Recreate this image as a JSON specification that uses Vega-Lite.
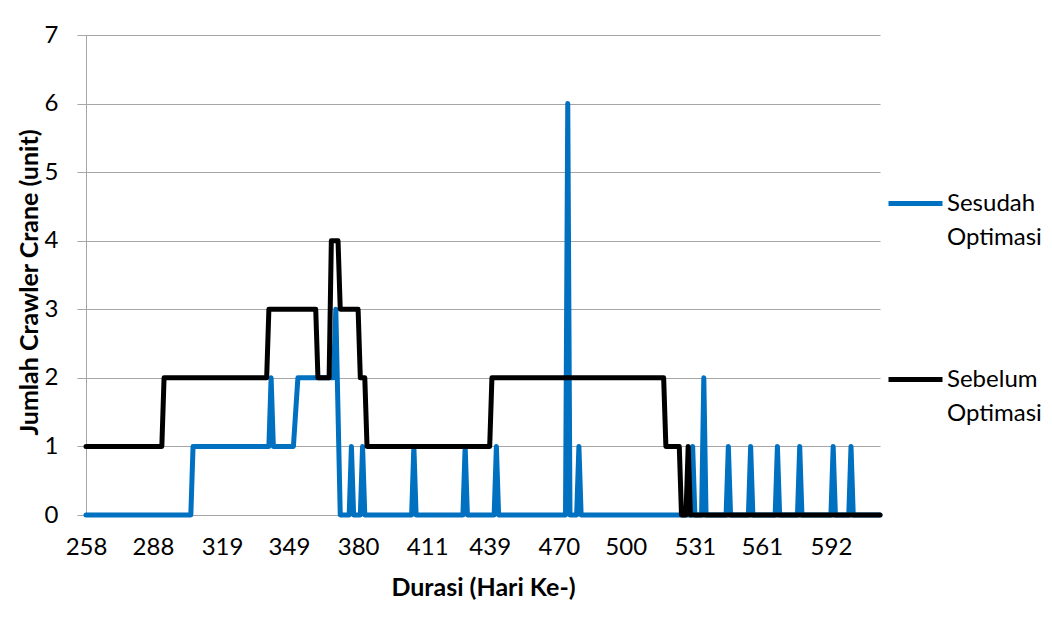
{
  "$schema": "https://vega.github.io/schema/vega-lite/v6.json",
  "width": 794,
  "height": 480,
  "autosize": {"type": "none"},
  "padding": {"left": 86, "top": 35, "right": 172, "bottom": 104},
  "background": "#ffffff",
  "config": {
    "font": "Lato",
    "view": {"stroke": null},
    "axis": {"labelFont": "Lato", "titleFont": "Lato", "labelColor": "#000000", "titleColor": "#000000"},
    "legend": {"labelFont": "Lato"}
  },
  "data": {
    "values": [
      {"series": "Sesudah Optimasi", "day": 258, "unit": 0},
      {"series": "Sesudah Optimasi", "day": 305, "unit": 0},
      {"series": "Sesudah Optimasi", "day": 306, "unit": 1},
      {"series": "Sesudah Optimasi", "day": 340, "unit": 1},
      {"series": "Sesudah Optimasi", "day": 341, "unit": 2},
      {"series": "Sesudah Optimasi", "day": 342, "unit": 1},
      {"series": "Sesudah Optimasi", "day": 351, "unit": 1},
      {"series": "Sesudah Optimasi", "day": 353, "unit": 2},
      {"series": "Sesudah Optimasi", "day": 369, "unit": 2},
      {"series": "Sesudah Optimasi", "day": 370, "unit": 3},
      {"series": "Sesudah Optimasi", "day": 372, "unit": 0},
      {"series": "Sesudah Optimasi", "day": 376, "unit": 0},
      {"series": "Sesudah Optimasi", "day": 377, "unit": 1},
      {"series": "Sesudah Optimasi", "day": 378, "unit": 0},
      {"series": "Sesudah Optimasi", "day": 381, "unit": 0},
      {"series": "Sesudah Optimasi", "day": 382, "unit": 1},
      {"series": "Sesudah Optimasi", "day": 383, "unit": 0},
      {"series": "Sesudah Optimasi", "day": 404, "unit": 0},
      {"series": "Sesudah Optimasi", "day": 405, "unit": 1},
      {"series": "Sesudah Optimasi", "day": 406, "unit": 0},
      {"series": "Sesudah Optimasi", "day": 427, "unit": 0},
      {"series": "Sesudah Optimasi", "day": 428, "unit": 1},
      {"series": "Sesudah Optimasi", "day": 429, "unit": 0},
      {"series": "Sesudah Optimasi", "day": 441, "unit": 0},
      {"series": "Sesudah Optimasi", "day": 442, "unit": 1},
      {"series": "Sesudah Optimasi", "day": 443, "unit": 0},
      {"series": "Sesudah Optimasi", "day": 473, "unit": 0},
      {"series": "Sesudah Optimasi", "day": 474, "unit": 6},
      {"series": "Sesudah Optimasi", "day": 475, "unit": 0},
      {"series": "Sesudah Optimasi", "day": 478, "unit": 0},
      {"series": "Sesudah Optimasi", "day": 479, "unit": 1},
      {"series": "Sesudah Optimasi", "day": 480, "unit": 0},
      {"series": "Sesudah Optimasi", "day": 529, "unit": 0},
      {"series": "Sesudah Optimasi", "day": 530, "unit": 1},
      {"series": "Sesudah Optimasi", "day": 531, "unit": 0},
      {"series": "Sesudah Optimasi", "day": 534, "unit": 0},
      {"series": "Sesudah Optimasi", "day": 535, "unit": 2},
      {"series": "Sesudah Optimasi", "day": 536, "unit": 0},
      {"series": "Sesudah Optimasi", "day": 545, "unit": 0},
      {"series": "Sesudah Optimasi", "day": 546, "unit": 1},
      {"series": "Sesudah Optimasi", "day": 547, "unit": 0},
      {"series": "Sesudah Optimasi", "day": 555, "unit": 0},
      {"series": "Sesudah Optimasi", "day": 556, "unit": 1},
      {"series": "Sesudah Optimasi", "day": 557, "unit": 0},
      {"series": "Sesudah Optimasi", "day": 567, "unit": 0},
      {"series": "Sesudah Optimasi", "day": 568, "unit": 1},
      {"series": "Sesudah Optimasi", "day": 569, "unit": 0},
      {"series": "Sesudah Optimasi", "day": 577, "unit": 0},
      {"series": "Sesudah Optimasi", "day": 578, "unit": 1},
      {"series": "Sesudah Optimasi", "day": 579, "unit": 0},
      {"series": "Sesudah Optimasi", "day": 592, "unit": 0},
      {"series": "Sesudah Optimasi", "day": 593, "unit": 1},
      {"series": "Sesudah Optimasi", "day": 594, "unit": 0},
      {"series": "Sesudah Optimasi", "day": 600, "unit": 0},
      {"series": "Sesudah Optimasi", "day": 601, "unit": 1},
      {"series": "Sesudah Optimasi", "day": 602, "unit": 0},
      {"series": "Sesudah Optimasi", "day": 614, "unit": 0},
      {"series": "Sebelum Optimasi", "day": 258, "unit": 1},
      {"series": "Sebelum Optimasi", "day": 292, "unit": 1},
      {"series": "Sebelum Optimasi", "day": 293, "unit": 2},
      {"series": "Sebelum Optimasi", "day": 339, "unit": 2},
      {"series": "Sebelum Optimasi", "day": 340, "unit": 3},
      {"series": "Sebelum Optimasi", "day": 361, "unit": 3},
      {"series": "Sebelum Optimasi", "day": 362, "unit": 2},
      {"series": "Sebelum Optimasi", "day": 367, "unit": 2},
      {"series": "Sebelum Optimasi", "day": 368, "unit": 4},
      {"series": "Sebelum Optimasi", "day": 371, "unit": 4},
      {"series": "Sebelum Optimasi", "day": 372, "unit": 3},
      {"series": "Sebelum Optimasi", "day": 380, "unit": 3},
      {"series": "Sebelum Optimasi", "day": 381, "unit": 2},
      {"series": "Sebelum Optimasi", "day": 383, "unit": 2},
      {"series": "Sebelum Optimasi", "day": 384, "unit": 1},
      {"series": "Sebelum Optimasi", "day": 439, "unit": 1},
      {"series": "Sebelum Optimasi", "day": 440, "unit": 2},
      {"series": "Sebelum Optimasi", "day": 517, "unit": 2},
      {"series": "Sebelum Optimasi", "day": 518, "unit": 1},
      {"series": "Sebelum Optimasi", "day": 524, "unit": 1},
      {"series": "Sebelum Optimasi", "day": 525, "unit": 0},
      {"series": "Sebelum Optimasi", "day": 527, "unit": 0},
      {"series": "Sebelum Optimasi", "day": 528, "unit": 1},
      {"series": "Sebelum Optimasi", "day": 529, "unit": 0},
      {"series": "Sebelum Optimasi", "day": 614, "unit": 0}
    ]
  },
  "encoding": {
    "x": {
      "field": "day",
      "type": "quantitative",
      "scale": {"domain": [258, 614], "nice": false, "zero": false},
      "axis": {
        "values": [258, 288, 319, 349, 380, 411, 439, 470, 500, 531, 561, 592],
        "grid": false,
        "ticks": false,
        "domainColor": "#a6a6a6",
        "domainWidth": 1,
        "labelFontSize": 24,
        "labelPadding": 20,
        "labelFlush": false,
        "labelOverlap": false,
        "title": "Durasi (Hari Ke-)",
        "titleFontSize": 25,
        "titleFontWeight": "bold",
        "titlePadding": 16
      }
    },
    "y": {
      "field": "unit",
      "type": "quantitative",
      "scale": {"domain": [0, 7], "nice": false},
      "axis": {
        "values": [0, 1, 2, 3, 4, 5, 6, 7],
        "grid": true,
        "gridColor": "#a6a6a6",
        "gridWidth": 1,
        "domainColor": "#a6a6a6",
        "tickColor": "#a6a6a6",
        "tickSize": 9,
        "labelFontSize": 24,
        "labelPadding": 19,
        "title": "Jumlah Crawler Crane (unit)",
        "titleFontSize": 25,
        "titleFontWeight": "bold",
        "titlePadding": 2,
        "titleY": 247
      }
    },
    "color": {
      "field": "series",
      "type": "nominal",
      "scale": {"domain": ["Sesudah Optimasi", "Sebelum Optimasi"], "range": ["#0070C0", "#000000"]},
      "legend": {
        "title": null,
        "orient": "none",
        "legendX": 800,
        "legendY": 139,
        "symbolType": "stroke",
        "symbolSize": 2916,
        "symbolStrokeWidth": 5,
        "labelFontSize": 24,
        "labelColor": "#000000",
        "labelOffset": 2,
        "labelLimit": 200,
        "labelBaseline": "middle",
        "labelExpr": "split(datum.label, ' ')",
        "rowPadding": 100,
        "encode": {
          "labels": {"update": {"lineHeight": {"value": 34}}}
        }
      }
    }
  },
  "layer": [
    {
      "transform": [{"filter": "datum.series === 'Sesudah Optimasi'"}],
      "mark": {"type": "line", "strokeWidth": 5, "strokeJoin": "round", "strokeCap": "round"}
    },
    {
      "transform": [{"filter": "datum.series === 'Sebelum Optimasi'"}],
      "mark": {"type": "line", "strokeWidth": 5, "strokeJoin": "round", "strokeCap": "round"}
    }
  ]
}
